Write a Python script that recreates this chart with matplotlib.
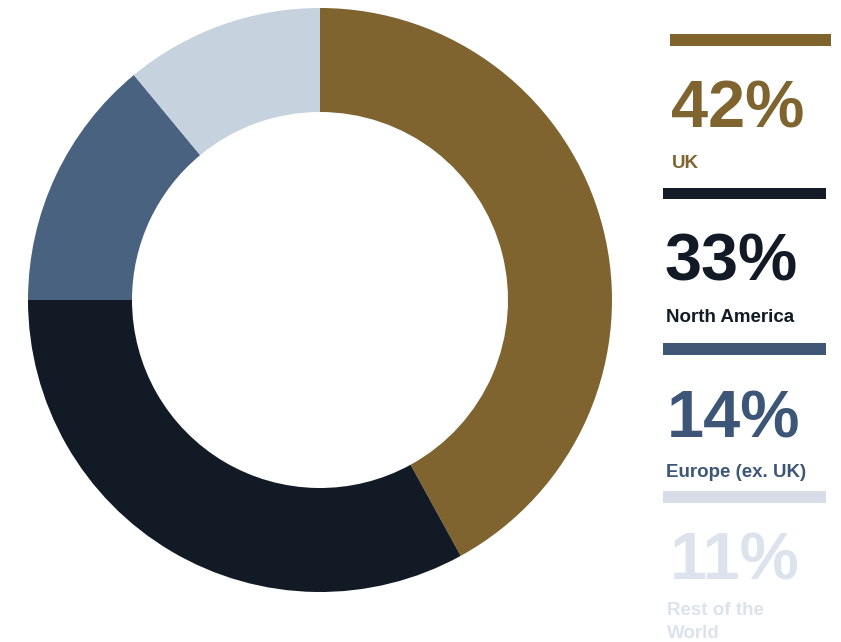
import matplotlib
matplotlib.use("Agg")
import matplotlib.pyplot as plt
from matplotlib.patches import Rectangle

# Regional split of revenue
regions = ["UK", "North America", "Europe (ex. UK)", "Rest of the\nWorld"]
shares = [42, 33, 14, 11]
wedge_colors = ["#7f6430", "#111a25", "#48627f", "#c7d2df"]
bar_colors = ["#80642e", "#121b26", "#3f5674", "#d6dde7"]
text_colors = ["#7f6430", "#111a25", "#3d5677", "#dce3ec"]

W, H = 841, 642
fig = plt.figure(figsize=(W / 100, H / 100), dpi=100)
fig.patch.set_facecolor("white")

def fx(x):
    return x / W

def fy(y):
    return 1 - y / H

# Donut
cx, cy, r_out, r_in = 320, 300, 292, 188
ax = fig.add_axes([fx(cx - r_out), fy(cy + r_out), 2 * r_out / W, 2 * r_out / H])
ax.pie(shares, colors=wedge_colors, startangle=90, counterclock=False,
       radius=1.0, wedgeprops=dict(width=1 - r_in / r_out, linewidth=0))
ax.set_xlim(-1, 1)
ax.set_ylim(-1, 1)
ax.set_aspect("equal")
ax.axis("off")

# Legend column on the right
font = dict(family="Liberation Sans", weight="bold")
bars = [(670, 34, 831, 46), (663, 188, 826, 199), (663, 343, 826, 355), (663, 491, 826, 503)]
pct_pos = [(671, 128), (665, 280), (667, 437), (670, 580)]
lab_pos = [(672, 168), (666, 322), (666, 477), (667, 615)]
line_step = 23

for i, name in enumerate(regions):
    x0, y0, x1, y1 = bars[i]
    fig.patches.append(Rectangle((fx(x0), fy(y1)), (x1 - x0) / W, (y1 - y0) / H,
                                 transform=fig.transFigure, facecolor=bar_colors[i],
                                 edgecolor="none"))
    px, py = pct_pos[i]
    fig.text(fx(px), fy(py), f"{shares[i]}%", color=text_colors[i], fontsize=48,
             ha="left", va="baseline", **font)
    lx, ly = lab_pos[i]
    for k, line in enumerate(name.split("\n")):
        fig.text(fx(lx), fy(ly + k * line_step), line, color=text_colors[i],
                 fontsize=13.5, ha="left", va="baseline", **font)

fig.savefig("out.png", dpi=100, facecolor="white")
